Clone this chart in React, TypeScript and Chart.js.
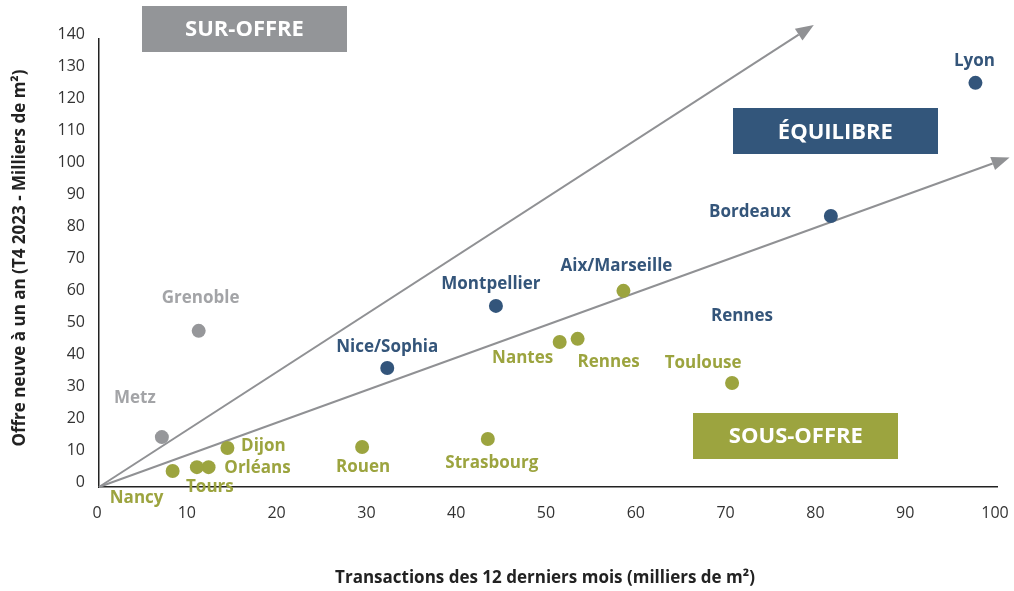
import React, { useEffect, useRef } from "react";
import { Chart, registerables } from "chart.js";

Chart.register(...registerables);

// ---- Data ----
const cities = [
  "Lyon", "Bordeaux", "Montpellier", "Nice/Sophia", "Aix/Marseille",
  "Nantes", "Rennes", "Toulouse", "Strasbourg", "Rouen",
  "Dijon", "Orléans", "Tours", "Nancy", "Grenoble", "Metz",
];
const transactions = [97.6, 81.5, 44.2, 32.1, 58.4, 51.3, 53.3, 70.5, 43.3, 29.3, 14.3, 12.2, 10.9, 8.2, 11.1, 7.0];
const newSupply = [126.3, 84.7, 56.6, 37.2, 61.3, 45.3, 46.3, 32.5, 15.0, 12.5, 12.2, 6.2, 6.2, 5.0, 48.8, 15.6];
const pointGroup = ["eq", "eq", "eq", "eq", "sous", "sous", "sous", "sous", "sous", "sous", "sous", "sous", "sous", "sous", "sur", "sur"];
const labelGroup = ["eq", "eq", "eq", "eq", "eq", "sous", "sous", "sous", "sous", "sous", "sous", "sous", "sous", "sous", "sur", "sur"];

// extra label without a marker
const extraLabels = ["Rennes"];
const extraLabelX = [71.6];
const extraLabelY = [53.4];
const extraLabelGroup = ["eq"];

// reference arrows from origin
const arrowEndX = [79.6, 101.4];
const arrowEndY = [144.4, 103.0];

// zone boxes
const zoneNames = ["SUR-OFFRE", "ÉQUILIBRE", "SOUS-OFFRE"];
const zoneX = [16.2, 82.0, 77.6];
const zoneY = [143.1, 111.1, 15.9];
const zoneGroup = ["sur", "eq", "sous"];

const xTitle = "Transactions des 12 derniers mois (milliers de m²)";
const yTitle = "Offre neuve à un an (T4 2023 - Milliers de m²)";

// ---- Styles ----
const FONT = "'Open Sans', 'Noto Sans', sans-serif";
const pointColors: Record<string, string> = { eq: "#33557b", sous: "#9ca43f", sur: "#96979a" };
const textColors: Record<string, string> = { eq: "#34557a", sous: "#9ca43f", sur: "#a3a4a7" };
const boxColors: Record<string, string> = { eq: "#33567b", sous: "#9ca43f", sur: "#939598" };
// label offsets in pixels (dx, dy) relative to each marker
const labelOffsets: [number, number][] = [
  [-1, -22], [-81, -4], [-5, -22], [0, -21], [-7, -25],
  [-37, 16], [31, 23], [-29, -20], [4, 24], [1, 20],
  [36, -2], [49, 1], [13, 20], [-36, 27], [2, -33], [-27, -39],
];

const annotationsPlugin = {
  id: "annotations",
  beforeDatasetsDraw(chart: any) {
    const { ctx, scales } = chart;
    const xs = scales.x, ys = scales.y;
    const x0 = xs.getPixelForValue(0), y0 = ys.getPixelForValue(0);
    ctx.save();
    ctx.strokeStyle = "#909194";
    ctx.fillStyle = "#909194";
    ctx.lineWidth = 2;
    for (let i = 0; i < arrowEndX.length; i++) {
      const x1 = xs.getPixelForValue(arrowEndX[i]);
      const y1 = ys.getPixelForValue(arrowEndY[i]);
      const ang = Math.atan2(y1 - y0, x1 - x0);
      const headLen = 18, headW = 7;
      const bx = x1 - headLen * Math.cos(ang), by = y1 - headLen * Math.sin(ang);
      ctx.beginPath();
      ctx.moveTo(x0, y0);
      ctx.lineTo(bx, by);
      ctx.stroke();
      ctx.beginPath();
      ctx.moveTo(x1, y1);
      ctx.lineTo(bx + headW * Math.sin(ang), by - headW * Math.cos(ang));
      ctx.lineTo(bx - headW * Math.sin(ang), by + headW * Math.cos(ang));
      ctx.closePath();
      ctx.fill();
    }
    ctx.restore();
  },
  afterDraw(chart: any) {
    const { ctx, scales } = chart;
    const xs = scales.x, ys = scales.y;
    ctx.save();
    // zone boxes
    for (let i = 0; i < zoneNames.length; i++) {
      const cx = xs.getPixelForValue(zoneX[i]);
      const cy = ys.getPixelForValue(zoneY[i]);
      const w = 205, h = 46;
      ctx.fillStyle = boxColors[zoneGroup[i]];
      ctx.fillRect(Math.round(cx - w / 2), Math.round(cy - h / 2), w, h);
      ctx.fillStyle = "#ffffff";
      ctx.font = `bold 22px ${FONT}`;
      ctx.textAlign = "center";
      ctx.textBaseline = "middle";
      ctx.fillText(zoneNames[i], cx, cy + 1);
    }
    // city labels
    ctx.font = `bold 17px ${FONT}`;
    ctx.textAlign = "center";
    ctx.textBaseline = "middle";
    for (let i = 0; i < cities.length; i++) {
      const px = xs.getPixelForValue(transactions[i]);
      const py = ys.getPixelForValue(newSupply[i]);
      ctx.fillStyle = textColors[labelGroup[i]];
      ctx.fillText(cities[i], px + labelOffsets[i][0], py + labelOffsets[i][1]);
    }
    for (let i = 0; i < extraLabels.length; i++) {
      ctx.fillStyle = textColors[extraLabelGroup[i]];
      ctx.fillText(extraLabels[i], xs.getPixelForValue(extraLabelX[i]), ys.getPixelForValue(extraLabelY[i]));
    }
    // axis titles
    ctx.fillStyle = "#222222";
    ctx.font = `bold 17px ${FONT}`;
    ctx.fillText(xTitle, 545, 578);
    ctx.translate(20, 258);
    ctx.rotate(-Math.PI / 2);
    ctx.fillText(yTitle, 0, 0);
    ctx.restore();
  },
};

export default function App() {
  const ref = useRef<HTMLCanvasElement | null>(null);
  useEffect(() => {
    if (!ref.current) return;
    const groupsOrder = ["eq", "sous", "sur"];
    const datasets = groupsOrder.map((g) => ({
      label: g,
      data: transactions
        .map((x, i) => ({ x, y: newSupply[i], g: pointGroup[i] }))
        .filter((p) => p.g === g)
        .map((p) => ({ x: p.x, y: p.y })),
      backgroundColor: pointColors[g],
      borderWidth: 0,
      pointRadius: 7,
      pointHoverRadius: 7,
    }));
    const chart = new Chart(ref.current, {
      type: "scatter",
      data: { datasets },
      options: {
        responsive: false,
        animation: false,
        layout: { padding: { top: 39, right: 17, left: 0, bottom: 0 } },
        plugins: { legend: { display: false }, tooltip: { enabled: false } },
        scales: {
          x: {
            type: "linear",
            min: 0,
            max: 100,
            afterFit: (s: any) => { s.height = 104; s.paddingLeft = 0; s.paddingRight = 0; },
            ticks: { stepSize: 10, color: "#333333", font: { family: FONT, size: 16 }, padding: 17, labelOffset: -2 },
            grid: { display: true, drawOnChartArea: false, drawTicks: false, color: "rgba(0,0,0,0)" },
            border: { display: true, color: "#222222", width: 1.5 },
          },
          y: {
            type: "linear",
            min: 0,
            max: 140,
            afterFit: (s: any) => { s.width = 99; s.paddingTop = 0; s.paddingBottom = 0; },
            ticks: { stepSize: 10, color: "#333333", font: { family: FONT, size: 16 }, padding: 14, labelOffset: -5 },
            grid: { display: true, drawOnChartArea: false, drawTicks: false, color: "rgba(0,0,0,0)" },
            border: { display: true, color: "#222222", width: 1.5 },
          },
        },
      },
      plugins: [annotationsPlugin],
    } as any);
    return () => chart.destroy();
  }, []);
  return (
    <div style={{ position: "absolute", left: 0, top: 0, width: 1014, height: 591, background: "#fff" }}>
      <canvas ref={ref} width={1014} height={591} />
    </div>
  );
}
